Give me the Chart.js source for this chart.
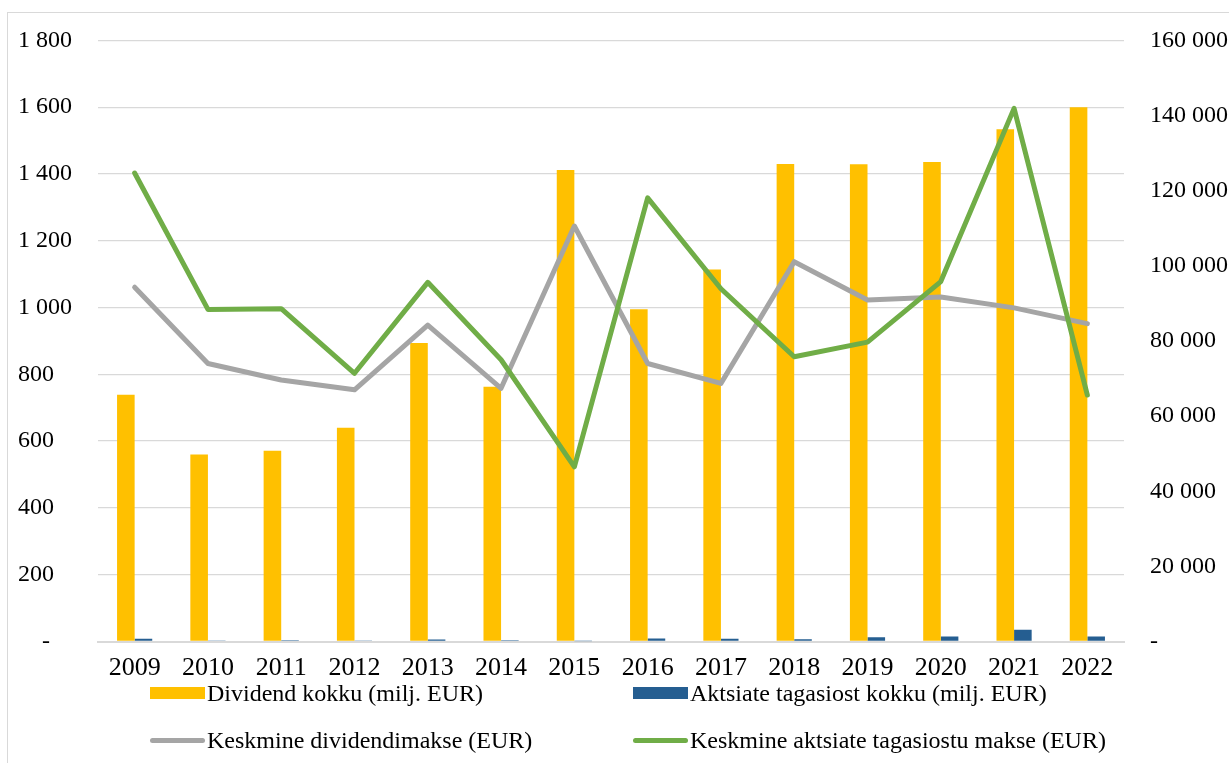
<!DOCTYPE html>
<html lang="et">
<head>
<meta charset="utf-8">
<title>Dividendid ja aktsiate tagasiost</title>
<script src="https://cdn.jsdelivr.net/npm/chart.js@4/dist/chart.umd.min.js"></script>
<style>
  html, body { margin: 0; padding: 0; background: #fff; overflow: hidden; }
  body { width: 1229px; height: 763px; position: relative; font-family: "Liberation Serif", "Times New Roman", serif; }
  #frame { position: absolute; left: 7px; top: 12px; width: 1300px; height: 900px; border: 1px solid #d9d9d9; box-sizing: border-box; }
  #wrap { position: absolute; left: 0; top: 0; width: 1229px; height: 763px; }
  #chart { display: block; }
  #legend { position: absolute; left: 0; top: 0; width: 1229px; height: 763px; pointer-events: none; }
  .item { position: absolute; display: flex; align-items: center; font-size: 24px; color: #000; white-space: nowrap; }
  .sw-box { width: 55px; height: 12px; margin-right: 2px; }
  .sw-line { width: 55px; height: 5px; border-radius: 3px; margin-right: 2px; }
</style>
</head>
<body>
<div id="frame"></div>
<div id="wrap"><canvas id="chart" width="1229" height="763"></canvas></div>
<div id="legend"></div>
<script>
// Aastad
const years = ['2009','2010','2011','2012','2013','2014','2015','2016','2017','2018','2019','2020','2021','2022'];

// Dividend kokku (milj. EUR)
const dividendTotal = [739, 560, 571, 640, 894, 763, 1412, 995, 1114, 1430, 1429, 1436, 1534, 1600];
// Aktsiate tagasiost kokku (milj. EUR)
const buybackTotal = [8, 3, 4, 3, 6, 4, 1, 9, 8, 7, 13, 15, 35, 15];
// Keskmine dividendimakse (EUR)
const avgDividend = [94300, 74000, 69600, 67000, 84200, 67400, 110600, 74000, 68700, 101100, 90900, 91700, 88800, 84600];
// Keskmine aktsiate tagasiostu makse (EUR)
const avgBuyback = [124700, 88400, 88600, 71400, 95600, 75000, 46500, 118100, 93900, 75800, 79700, 95800, 141900, 65600];

// Telgede jaotused
const leftMax = 1800, leftStep = 200;
const rightMax = 160000, rightStep = 20000;

const seriesNames = [
  'Dividend kokku (milj. EUR)',
  'Aktsiate tagasiost kokku (milj. EUR)',
  'Keskmine dividendimakse (EUR)',
  'Keskmine aktsiate tagasiostu makse (EUR)'
];

const FONT = "'Liberation Serif', 'Times New Roman', serif";

function spaced(v) {
  if (v === 0) return '    -';
  return String(v).replace(/\B(?=(\d{3})+(?!\d))/g, ' ');
}

const ctx = document.getElementById('chart').getContext('2d');
const chart = new Chart(ctx, {
  type: 'bar',
  data: {
    labels: years,
    datasets: [
      {
        label: seriesNames[0], data: dividendTotal, yAxisID: 'y',
        backgroundColor: '#FFC000', barPercentage: 1, categoryPercentage: 0.48, order: 2
      },
      {
        label: seriesNames[1], data: buybackTotal, yAxisID: 'y',
        backgroundColor: '#255E91', barPercentage: 1, categoryPercentage: 0.48, order: 3
      },
      {
        type: 'line', label: seriesNames[2], data: avgDividend, yAxisID: 'y2',
        borderColor: '#A5A5A5', backgroundColor: '#A5A5A5', borderWidth: 5,
        pointRadius: 0, borderCapStyle: 'round', borderJoinStyle: 'round', tension: 0, order: 1
      },
      {
        type: 'line', label: seriesNames[3], data: avgBuyback, yAxisID: 'y2',
        borderColor: '#70AD47', backgroundColor: '#70AD47', borderWidth: 5,
        pointRadius: 0, borderCapStyle: 'round', borderJoinStyle: 'round', tension: 0, order: 0
      }
    ]
  },
  options: {
    responsive: false,
    animation: false,
    layout: { padding: { top: 36.5, left: 18, right: 0, bottom: 81.5 } },
    plugins: { legend: { display: false }, tooltip: { enabled: false } },
    scales: {
      x: {
        grid: { display: false, drawTicks: false },
        border: { display: true, color: '#d9d9d9', width: 2 },
        ticks: { color: '#000', font: { family: FONT, size: 26 }, padding: 11, maxRotation: 0, autoSkip: false },
        afterFit: s => { s.height = 40; }
      },
      y: {
        position: 'left', min: 0, max: leftMax,
        grid: { color: '#d9d9d9', lineWidth: 1.3, drawTicks: false },
        border: { display: false },
        ticks: {
          stepSize: leftStep, color: '#000', font: { family: FONT, size: 24 },
          crossAlign: 'far', padding: 25,
          callback: v => spaced(v)
        },
        afterFit: s => { s.width = 80; }
      },
      y2: {
        position: 'right', min: 0, max: rightMax,
        grid: { drawOnChartArea: false, drawTicks: false },
        border: { display: false },
        ticks: {
          stepSize: rightStep, color: '#000', font: { family: FONT, size: 24 },
          padding: 26,
          callback: v => v === 0 ? '-' : spaced(v)
        },
        afterFit: s => { s.width = 105; }
      }
    }
  }
});

// Legend in two columns, built from the chart's datasets
const legendEl = document.getElementById('legend');
const legendOrder = [
  { ds: 0, left: 150, top: 693, kind: 'box' },
  { ds: 1, left: 633, top: 693, kind: 'box' },
  { ds: 2, left: 150, top: 740, kind: 'line' },
  { ds: 3, left: 633, top: 740, kind: 'line' }
];
legendOrder.forEach(o => {
  const d = chart.data.datasets[o.ds];
  const item = document.createElement('div');
  item.className = 'item';
  item.style.left = o.left + 'px';
  item.style.top = (o.top - 15) + 'px';
  item.style.height = '30px';
  const sw = document.createElement('span');
  sw.className = o.kind === 'box' ? 'sw-box' : 'sw-line';
  sw.style.background = o.kind === 'box' ? d.backgroundColor : d.borderColor;
  const tx = document.createElement('span');
  tx.textContent = d.label;
  item.appendChild(sw);
  item.appendChild(tx);
  legendEl.appendChild(item);
});
</script>
</body>
</html>
